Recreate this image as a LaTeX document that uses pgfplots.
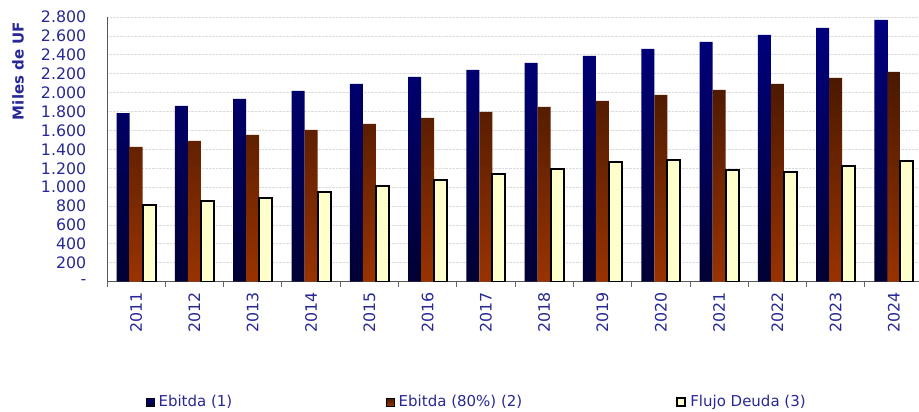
\documentclass[border=0pt]{standalone}
\usepackage{fontspec}
\setmainfont{DejaVu Sans}
\usepackage{pgfplots}
\pgfplotsset{compat=1.18}
\definecolor{txt}{RGB}{40,40,150}
\definecolor{navytop}{RGB}{0,0,128}
\definecolor{navybot}{RGB}{0,0,51}
\definecolor{browntop}{RGB}{72,24,0}
\definecolor{brownbot}{RGB}{153,51,0}
\definecolor{yel}{RGB}{255,255,204}
\begin{document}
\begin{tikzpicture}
\useasboundingbox (0,0) rectangle (919bp,412bp);
\begin{axis}[
  at={(107bp,130.3bp)}, anchor=south west,
  scale only axis, width=812bp, height=264.7bp,
  xmin=-0.5, xmax=13.43, ymin=0, ymax=2800,
  ybar=0pt, bar width=13bp,
  xtick={0,...,13},
  xticklabels={2011,2012,2013,2014,2015,2016,2017,2018,2019,2020,2021,2022,2023,2024},
  major x tick style={draw=none},
  minor xtick={-0.5,0.5,...,12.5},
  minor x tick style={draw=gray!80!black, line width=0.8bp},
  minor tick length=5bp,
  tick align=outside,
  ytick={0,200,...,2800},
  yticklabels={-,200,400,600,800,1.000,1.200,1.400,1.600,1.800,2.000,2.200,2.400,2.600,2.800},
  major y tick style={draw=none},
  ymajorgrids, grid style={densely dotted, gray!28, line width=0.8bp},
  axis x line*=bottom, axis y line*=left,
  axis line style={-, draw=gray!70!black, line width=1bp},
  ticklabel style={font=\fontsize{15.8bp}{18bp}\selectfont, text=txt},
  xticklabel style={rotate=90, anchor=east, xshift=-3bp},
  yticklabel style={xshift=-13bp},
  ylabel={Miles de UF},
  ylabel style={font=\bfseries\fontsize{15bp}{18bp}\selectfont, text=txt, at={(axis description cs:-0.1096,0.796)}, anchor=center},
  legend image code/.code={\draw[#1] (0bp,-4bp) rectangle (8bp,4bp);},
  legend style={draw=none, fill=none, at={(axis description cs:0.048,-0.4545)}, anchor=west,
    font=\fontsize{15bp}{17bp}\selectfont, text=txt, inner sep=0pt,
    /tikz/every odd column/.append style={column sep=2bp},
    /tikz/every even column/.append style={column sep=152bp}},
  legend columns=3, legend cell align=left,
]
\addplot[draw=none, top color=navytop, bottom color=navybot] coordinates {
(0,1783) (1,1860) (2,1934) (3,2019) (4,2093) (5,2167) (6,2241) (7,2315) (8,2389) (9,2463) (10,2537) (11,2611) (12,2686) (13,2770)};
\addplot[draw=none, top color=browntop, bottom color=brownbot] coordinates {
(0,1426) (1,1489) (2,1553) (3,1606) (4,1669) (5,1733) (6,1796) (7,1849) (8,1913) (9,1976) (10,2029) (11,2093) (12,2156) (13,2220)};
\addplot[draw=black, line width=2bp, fill=yel] coordinates {
(0,809) (1,851) (2,886) (3,946) (4,1010) (5,1073) (6,1140) (7,1193) (8,1262) (9,1291) (10,1182) (11,1161) (12,1228) (13,1274)};
\legend{Ebitda (1),Ebitda (80\%) (2),Flujo Deuda (3)}
\end{axis}
\end{tikzpicture}
\end{document}
